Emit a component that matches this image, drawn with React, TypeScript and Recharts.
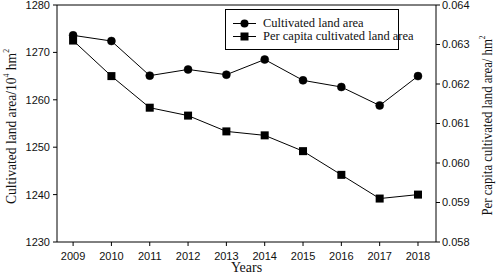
import { ComposedChart, Line, XAxis, YAxis, ReferenceLine } from 'recharts';

const years = [2009, 2010, 2011, 2012, 2013, 2014, 2015, 2016, 2017, 2018];
const landArea = [1273.6, 1272.4, 1265.1, 1266.4, 1265.3, 1268.5, 1264.1, 1262.7, 1258.8, 1265.0];
const perCapita = [0.0631, 0.0622, 0.0614, 0.0612, 0.0608, 0.0607, 0.0603, 0.0597, 0.0591, 0.0592];
const leftTicks = [1230, 1240, 1250, 1260, 1270, 1280];
const rightTicks = [0.058, 0.059, 0.06, 0.061, 0.062, 0.063, 0.064];
const legendItems = [
  { name: 'Cultivated land area', shape: 'circle' },
  { name: 'Per capita cultivated land area', shape: 'square' },
];

const data = years.map((year, i) => ({ year, area: landArea[i], perCapita: perCapita[i] }));

const serif = '"Liberation Serif", "Times New Roman", serif';
const sans = '"Liberation Sans", Arial, sans-serif';
const tickStyle = { fontFamily: sans, fontSize: 11, fill: '#111' };

const SquareDot = (props: any) => {
  const { cx, cy } = props;
  if (cx == null || cy == null) return null;
  return <rect x={cx - 4} y={cy - 4} width={8} height={8} fill="#000" />;
};

const LeftTitle = ({ viewBox }: any) => {
  const x = 11;
  const y = viewBox.y + viewBox.height / 2 + 3;
  return (
    <text x={x} y={y} transform={`rotate(-90 ${x} ${y})`} textAnchor="middle" dominantBaseline="central"
      textLength={155} lengthAdjust="spacingAndGlyphs"
      style={{ fontFamily: serif, fontSize: 14, fill: '#111' }}>
      Cultivated land area/10<tspan dy={-5} fontSize={8}>4</tspan><tspan dy={5}> hm</tspan>
      <tspan dy={-5} fontSize={8}>2</tspan>
    </text>
  );
};

const RightTitle = ({ viewBox }: any) => {
  const x = viewBox.x + 51;
  const y = viewBox.y + viewBox.height / 2 + 2;
  return (
    <text x={x} y={y} transform={`rotate(-90 ${x} ${y})`} textAnchor="middle" dominantBaseline="central"
      textLength={180} lengthAdjust="spacingAndGlyphs"
      style={{ fontFamily: serif, fontSize: 14, fill: '#111' }}>
      Per capita cultivated land area/ hm<tspan dy={-5} fontSize={8}>2</tspan>
    </text>
  );
};

const LegendBox = () => (
  <div style={{ position: 'absolute', left: 225, top: 9, border: '1px solid #000', width: 172, height: 39, background: '#fff', fontFamily: serif, fontSize: 12.5, color: '#111' }}>
    {legendItems.map((item, i) => (
      <div key={item.name} style={{ display: 'flex', alignItems: 'center', height: 13, marginTop: i === 0 ? 7 : 0 }}>
        <svg width={28} height={13} style={{ marginLeft: 6, flex: 'none' }}>
          <line x1={1} y1={6.5} x2={24} y2={6.5} stroke="#000" strokeWidth={1} />
          {item.shape === 'circle'
            ? <circle cx={12.5} cy={6.5} r={4} fill="#000" />
            : <rect x={8.5} y={2.5} width={8} height={8} fill="#000" />}
        </svg>
        <span style={{ whiteSpace: 'nowrap', lineHeight: '13px', marginLeft: 3 }}>{item.name}</span>
      </div>
    ))}
  </div>
);

export default function App() {
  return (
    <div style={{ position: 'absolute', left: 0, top: 0, width: 498, height: 280, background: '#fff' }}>
      <ComposedChart width={498} height={280} data={data} margin={{ top: 5, right: 0, bottom: 0, left: 0 }}>
        <XAxis
          dataKey="year"
          type="number"
          domain={[2008.58, 2018.47]}
          ticks={years}
          interval={0}
          height={38}
          tickSize={4}
          tickMargin={6}
          stroke="#000"
          tick={tickStyle}
          label={{ value: 'Years', position: 'insideBottom', offset: 8, style: { fontFamily: serif, fontSize: 14, fill: '#111' } }}
        />
        <YAxis
          yAxisId="left"
          domain={[1230, 1280]}
          ticks={leftTicks}
          interval={0}
          width={57}
          tickSize={4}
          tickMargin={3}
          stroke="#000"
          tick={tickStyle}
          label={<LeftTitle />}
        />
        <YAxis
          yAxisId="right"
          orientation="right"
          domain={[0.058, 0.064]}
          ticks={rightTicks}
          interval={0}
          tickFormatter={(v: number) => v.toFixed(3)}
          width={62}
          tickSize={4}
          tickMargin={2}
          stroke="#000"
          tick={{ ...tickStyle, textAnchor: 'start' }}
          label={<RightTitle />}
        />
        <ReferenceLine yAxisId="left" y={1280} stroke="#000" />
        <Line
          yAxisId="left"
          dataKey="area"
          stroke="#000"
          strokeWidth={1}
          dot={{ r: 4, fill: '#000', stroke: '#000', strokeWidth: 0.5 }}
          isAnimationActive={false}
        />
        <Line
          yAxisId="right"
          dataKey="perCapita"
          stroke="#000"
          strokeWidth={1}
          dot={<SquareDot />}
          isAnimationActive={false}
        />
      </ComposedChart>
      <LegendBox />
    </div>
  );
}
